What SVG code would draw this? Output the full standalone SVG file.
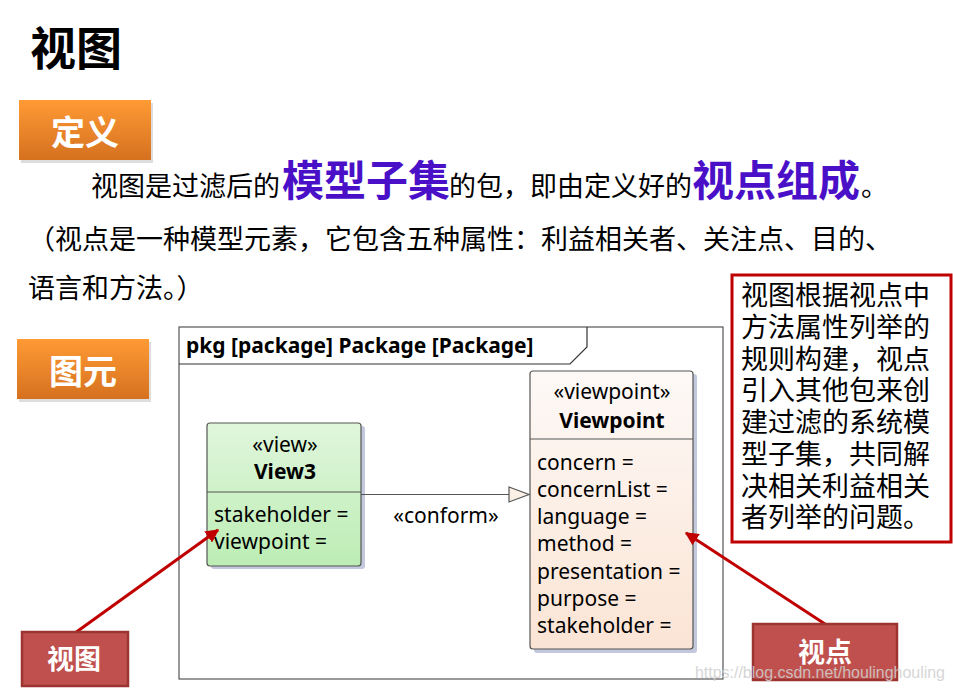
<svg xmlns="http://www.w3.org/2000/svg" width="953" height="690" viewBox="0 0 953 690">
<defs>
  <linearGradient id="gOrange" x1="0" y1="0" x2="0" y2="1">
    <stop offset="0" stop-color="#ff9a35"/>
    <stop offset="1" stop-color="#d5711f"/>
  </linearGradient>
  <linearGradient id="gGreen" x1="0" y1="0" x2="0" y2="1">
    <stop offset="0" stop-color="#e0f6dc"/>
    <stop offset="1" stop-color="#bcedb4"/>
  </linearGradient>
  <linearGradient id="gPeach" x1="0" y1="0" x2="0" y2="1">
    <stop offset="0" stop-color="#fdf9f7"/>
    <stop offset="1" stop-color="#fbe4d4"/>
  </linearGradient>
  <marker id="redHead" viewBox="0 0 10 10" refX="9" refY="5" markerWidth="4.5" markerHeight="4.5" orient="auto" markerUnits="strokeWidth">
    <path d="M0,0 L10,5 L0,10 Z" fill="#c00000"/>
  </marker>
  <style>
    .cjk{font-family:"Noto Sans CJK SC","Microsoft YaHei",sans-serif;}
    .body{font-size:27px;fill:#000;}
    .hl{font-size:42px;font-weight:bold;fill:#4a10c8;}
    .uml{font-family:"Noto Sans","Open Sans","DejaVu Sans",sans-serif;font-size:21px;fill:#000;}
    .umlb{font-family:"Noto Sans","Open Sans","DejaVu Sans",sans-serif;font-size:21px;font-weight:bold;fill:#000;}
    .badge{font-weight:bold;fill:#fff;text-anchor:middle;}
    .box{stroke:#555;stroke-width:1.2;}
    .shadow{fill:#c3c8dc;}
    .red{stroke:#c00000;stroke-width:3;fill:none;}
  </style>
</defs>

<!-- title -->
<text id="title" class="cjk" x="30" y="65" font-size="46" font-weight="bold" fill="#000">视图</text>

<!-- 定义 badge -->
<g id="badge-def">
  <rect x="21" y="103" width="132" height="60" fill="#bbbbbb" opacity="0.5"/>
  <rect x="19" y="100" width="132" height="60" fill="url(#gOrange)"/>
  <text class="cjk badge" x="85" y="145" font-size="34">定义</text>
</g>

<!-- body text -->
<g id="definition">
  <text class="cjk body" y="196">
    <tspan x="91">视图是过滤后的</tspan><tspan x="282" class="hl">模型子集</tspan><tspan x="449">的包，即由定义好的</tspan><tspan x="692" class="hl">视点组成</tspan><tspan x="861">。</tspan>
  </text>
  <text class="cjk body" x="28" y="249">（视点是一种模型元素，它包含五种属性：利益相关者、关注点、目的、</text>
  <text class="cjk body" x="28" y="298">语言和方法。）</text>
</g>

<!-- 图元 badge -->
<g id="badge-elem">
  <rect x="19" y="342" width="132" height="60" fill="#bbbbbb" opacity="0.5"/>
  <rect x="17" y="339" width="132" height="60" fill="url(#gOrange)"/>
  <text class="cjk badge" x="83" y="384" font-size="34">图元</text>
</g>

<!-- package frame -->
<g id="package">
  <rect x="179" y="327" width="544" height="352" fill="#fff" stroke="#555" stroke-width="1.2"/>
  <path d="M179,364 L570,364 L587,347 L587,327" fill="none" stroke="#333" stroke-width="1.2"/>
  <text class="umlb" x="186" y="353">pkg [package] Package [Package]</text>
</g>

<!-- View3 -->
<g id="view3">
  <rect class="shadow" x="211" y="426" width="154" height="143" rx="3"/>
  <rect class="box" x="207" y="423" width="154" height="143" rx="3" fill="url(#gGreen)"/>
  <line class="box" x1="207" y1="492" x2="361" y2="492"/>
  <text class="uml" x="285" y="452" text-anchor="middle">«view»</text>
  <text class="umlb" x="285" y="479" text-anchor="middle">View3</text>
  <text class="uml" x="214" y="522">stakeholder =</text>
  <text class="uml" x="214" y="549">viewpoint =</text>
</g>

<!-- Viewpoint -->
<g id="viewpoint">
  <rect class="shadow" x="534" y="374" width="163" height="279" rx="3"/>
  <rect class="box" x="530" y="371" width="163" height="278" rx="3" fill="url(#gPeach)"/>
  <line class="box" x1="530" y1="439" x2="693" y2="439"/>
  <text class="uml" x="612" y="399" text-anchor="middle">«viewpoint»</text>
  <text class="umlb" x="612" y="428" text-anchor="middle">Viewpoint</text>
  <text class="uml" x="537" y="470">concern =</text>
  <text class="uml" x="537" y="497">concernList =</text>
  <text class="uml" x="537" y="524">language =</text>
  <text class="uml" x="537" y="551">method =</text>
  <text class="uml" x="537" y="579">presentation =</text>
  <text class="uml" x="537" y="606">purpose =</text>
  <text class="uml" x="537" y="633">stakeholder =</text>
</g>

<!-- connectors -->
<g id="connectors">
  <line x1="361" y1="494.5" x2="509" y2="494.5" stroke="#555" stroke-width="1.2"/>
  <path d="M509,487 L529,494.5 L509,502 Z" fill="#faf0e6" stroke="#555" stroke-width="1.2"/>
  <text class="uml" x="446" y="523" text-anchor="middle">«conform»</text>
  <line class="red" x1="75" y1="633" x2="218" y2="530" marker-end="url(#redHead)"/>
  <line class="red" x1="825" y1="624" x2="686" y2="533" marker-end="url(#redHead)"/>
</g>

<!-- note -->
<g id="note">
  <rect x="732" y="275" width="219" height="267" fill="#fff" stroke="#c00000" stroke-width="3"/>
  <g class="cjk" font-size="27" fill="#000">
    <text x="741" y="305">视图根据视点中</text>
    <text x="741" y="337">方法属性列举的</text>
    <text x="741" y="369">规则构建，视点</text>
    <text x="741" y="400">引入其他包来创</text>
    <text x="741" y="432">建过滤的系统模</text>
    <text x="741" y="464">型子集，共同解</text>
    <text x="741" y="496">决相关利益相关</text>
    <text x="741" y="527">者列举的问题。</text>
  </g>
</g>

<!-- 视图 label -->
<g id="label-view">
  <rect x="22" y="632" width="106" height="54" fill="#c0504d" stroke="#9c3532" stroke-width="2.5"/>
  <text class="cjk badge" x="74" y="669" font-size="27">视图</text>
</g>

<!-- 视点 label -->
<g id="label-viewpoint">
  <rect x="753" y="624" width="144" height="56" fill="#c0504d" stroke="#9c3532" stroke-width="2.5"/>
  <text class="cjk badge" x="825" y="662" font-size="27">视点</text>
</g>

<!-- watermark -->
<text x="695" y="678" font-family="Liberation Sans, sans-serif" font-size="16" textLength="250" lengthAdjust="spacingAndGlyphs" fill="#d0d0d0" opacity="0.85">https://blog.csdn.net/houlinghouling</text>
</svg>
